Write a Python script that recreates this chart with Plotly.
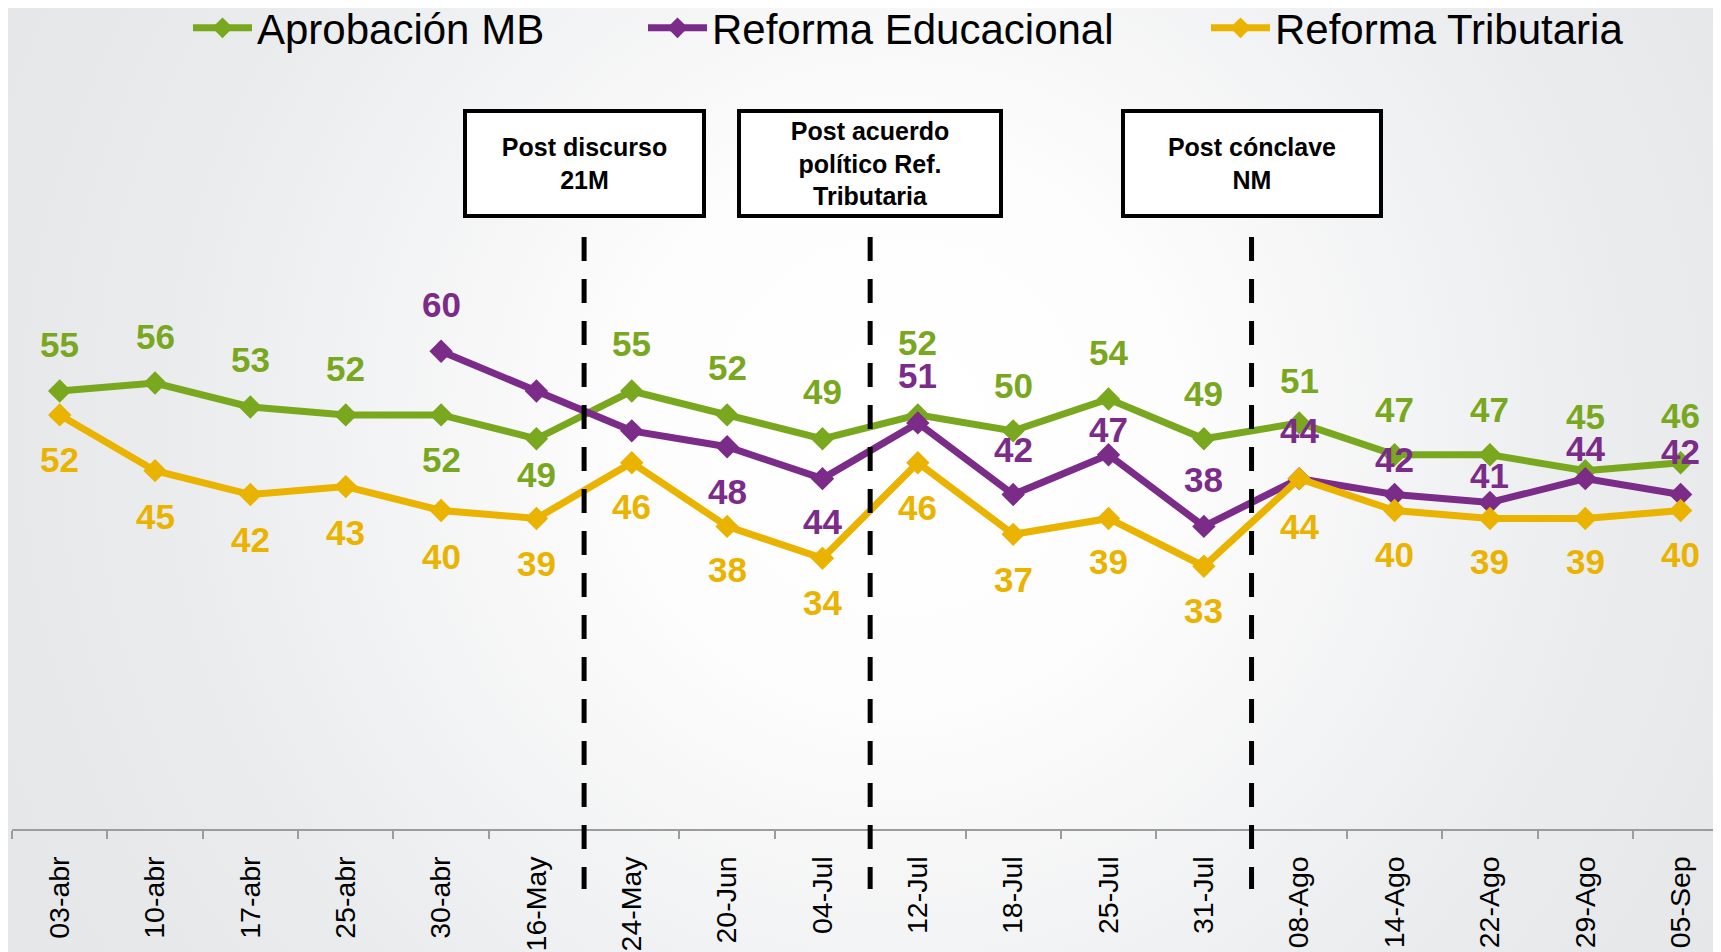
import base64
import plotly.graph_objects as go

# ---------------- data ----------------
dates = ["03-abr", "10-abr", "17-abr", "25-abr", "30-abr", "16-May", "24-May",
         "20-Jun", "04-Jul", "12-Jul", "18-Jul", "25-Jul", "31-Jul", "08-Ago",
         "14-Ago", "22-Ago", "29-Ago", "05-Sep"]
aprobacion = [55, 56, 53, 52, 52, 49, 55, 52, 49, 52, 50, 54, 49, 51, 47, 47, 45, 46]
educacional = [None, None, None, None, 60, 55, 50, 48, 44, 51, 42, 47, 38, 44, 42, 41, 44, 42]
educacional_labels = [None, None, None, None, 60, None, None, 48, 44, 51, 42, 47, 38, 44, 42, 41, 44, 42]
tributaria = [52, 45, 42, 43, 40, 39, 46, 38, 34, 46, 37, 39, 33, 44, 40, 39, 39, 40]

series_names = ["Aprobación MB", "Reforma Educacional", "Reforma Tributaria"]

event_positions = [5.5, 8.5, 12.5]
event_labels = ["Post discurso<br>21M",
                "Post acuerdo<br>político Ref.<br>Tributaria",
                "Post cónclave<br>NM"]

# ---------------- style ----------------
FONT = "Liberation Sans, Arial, sans-serif"
GREEN = "#79A71E"
PURPLE = "#7B2B88"
YELLOW = "#E9B300"

# label offsets in px (positive = above the point)
green_off = [45, 45, 45, 44, -47, -38, 46, 45, 45, 70, 43, 45, 43, 40, 43, 43, 52, 45]
purple_off = [0, 0, 0, 0, 45, 0, 0, -47, -45, 45, 43, 23, 45, 46, 33, 25, 28, 41]
yellow_off = [-47, -48, -47, -48, -48, -47, -46, -45, -46, -47, -47, -45, -46, -50, -46, -45, -45, -46]
LABEL_NUDGE = 2
box_widths = [235, 258, 254]

# the page body adds an 8px offset, so the figure is 8px smaller
W, H = 1713, 944
ML, MR, MT, MB = 4, 0, 0, 123
PW, PH = W - ML - MR, H - MT - MB
PX_PER_UNIT_Y = 7.963
YMAX = PH / PX_PER_UNIT_Y
XMAX = -0.5 + PW / 95.35


def py(fig_y):
    """figure pixel y -> paper fraction"""
    return (PH + MT - fig_y) / PH


def px(fig_x):
    return (fig_x - ML) / PW


fig = go.Figure()
for name, vals, color, leg in [(series_names[0], aprobacion, GREEN, "legend"),
                               (series_names[1], educacional, PURPLE, "legend2"),
                               (series_names[2], tributaria, YELLOW, "legend3")]:
    fig.add_trace(go.Scatter(
        x=dates, y=vals, name=name, mode="lines+markers", legend=leg,
        line=dict(color=color, width=7),
        marker=dict(symbol="diamond", size=18, color=color),
        connectgaps=False, hoverinfo="skip"))

annotations = []
for vals, labels, offs, color in [(aprobacion, aprobacion, green_off, GREEN),
                                  (educacional, educacional_labels, purple_off, PURPLE),
                                  (tributaria, tributaria, yellow_off, YELLOW)]:
    for i, (v, lab, off) in enumerate(zip(vals, labels, offs)):
        if lab is None:
            continue
        annotations.append(dict(
            x=dates[i], y=v, xref="x", yref="y", text=str(lab), showarrow=False,
            xanchor="center", yanchor="middle", yshift=off + LABEL_NUDGE,
            font=dict(size=35, color=color, family=FONT, weight=700)))

shapes = []
for pos, lab, bw in zip(event_positions, event_labels, box_widths):
    annotations.append(dict(
        x=pos, y=py(155.5), xref="x", yref="paper", text=lab, showarrow=False,
        xanchor="center", yanchor="middle",
        width=bw, height=101, borderwidth=4, borderpad=0, bordercolor="black",
        bgcolor="white", align="center", valign="middle",
        font=dict(size=25, color="black", family=FONT, weight=700)))
    shapes.append(dict(
        type="line", xref="x", yref="paper", x0=pos, x1=pos,
        y0=py(229), y1=py(881),
        line=dict(color="black", width=5, dash="24px,18px"), layer="above"))

svg = ('<svg xmlns="http://www.w3.org/2000/svg" width="1713" height="944">'
       '<defs><radialGradient id="g" cx="890" cy="420" r="950" gradientUnits="userSpaceOnUse">'
       '<stop offset="0" stop-color="#ffffff"/><stop offset="0.28" stop-color="#fdfdfd"/>'
       '<stop offset="0.75" stop-color="#ebecee"/><stop offset="1" stop-color="#e6e7e9"/>'
       '</radialGradient></defs><rect width="1713" height="944" fill="url(#g)"/></svg>')
src = "data:image/svg+xml;base64," + base64.b64encode(svg.encode()).decode()


def legend_cfg(x_px):
    return dict(xref="paper", yref="paper", x=px(x_px), y=py(20),
                xanchor="left", yanchor="middle", orientation="h",
                bgcolor="rgba(0,0,0,0)", borderwidth=0, itemwidth=59,
                font=dict(size=42, color="black", family=FONT))


fig.update_layout(
    width=W, height=H,
    margin=dict(l=ML, r=MR, t=MT, b=MB, pad=0, autoexpand=False),
    paper_bgcolor="#e9eaec", plot_bgcolor="rgba(0,0,0,0)",
    showlegend=True,
    legend=legend_cfg(180), legend2=legend_cfg(635), legend3=legend_cfg(1198),
    xaxis=dict(type="category", categoryorder="array", categoryarray=dates,
               range=[-0.5, XMAX], showline=True, linecolor="#9c9c9c", linewidth=2,
               ticks="outside", tickson="boundaries", ticklen=8, tickcolor="#9c9c9c",
               tickwidth=2, tickangle=-90, showgrid=False, zeroline=False,
               automargin=False, ticklabelstandoff=14,
               tickfont=dict(size=28.5, color="black", family=FONT)),
    yaxis=dict(range=[0, YMAX], visible=False, showgrid=False, zeroline=False,
               automargin=False),
    annotations=annotations, shapes=shapes,
    images=[dict(source=src, xref="paper", yref="paper", x=-ML / PW, y=1 + MT / PH,
                 sizex=W / PW, sizey=H / PH, sizing="stretch", xanchor="left",
                 yanchor="top", layer="below")],
)

fig.write_html("out.html")
